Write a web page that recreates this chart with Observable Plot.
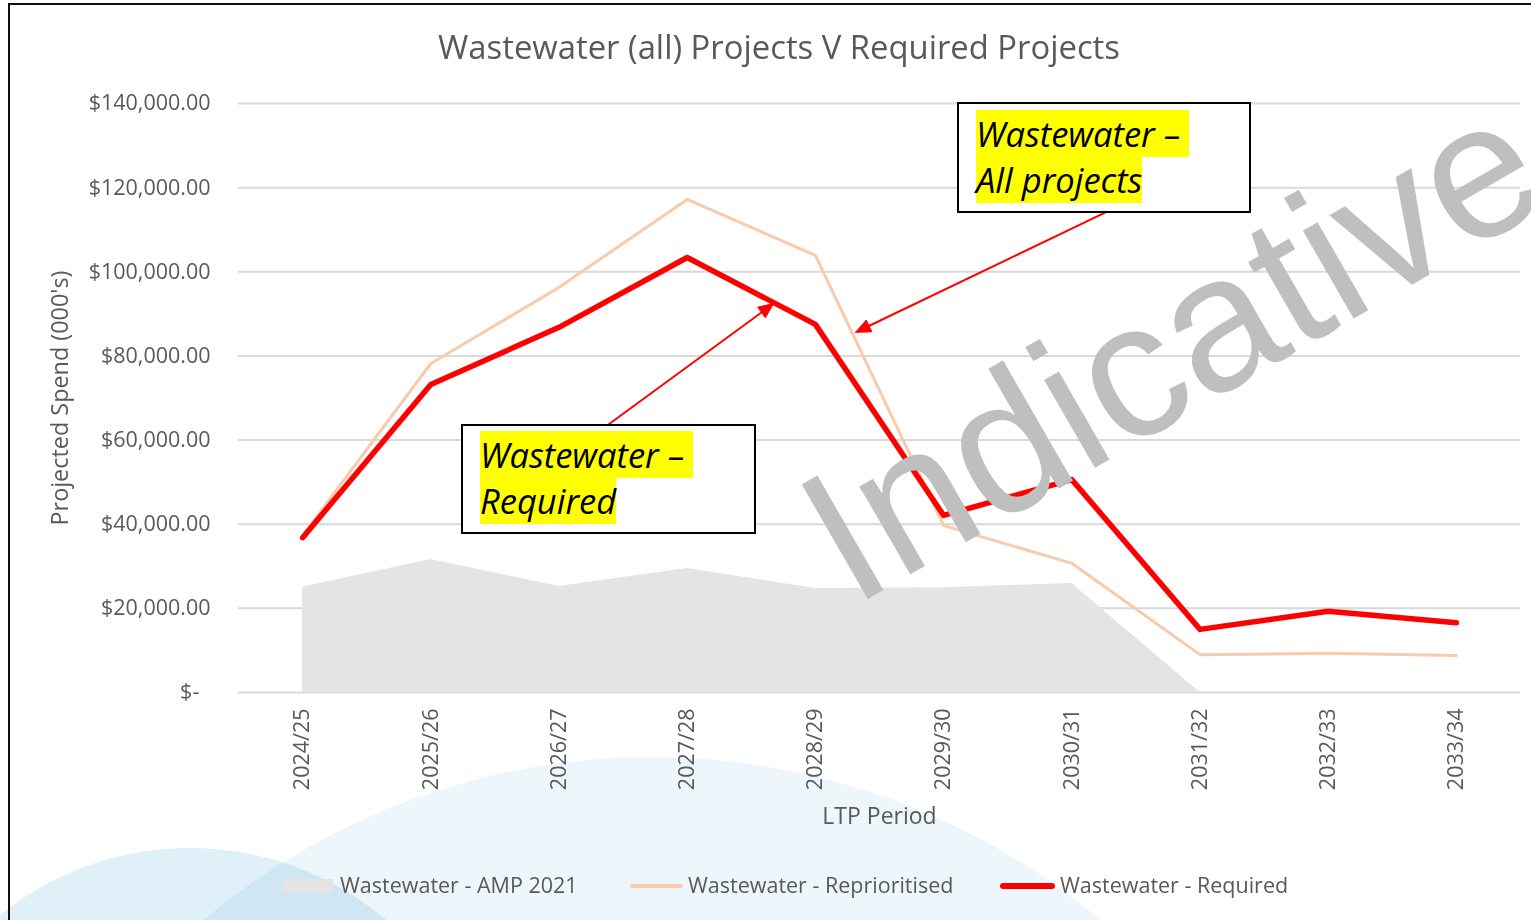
<!DOCTYPE html>
<html><head><meta charset="utf-8">
<script src="https://cdn.jsdelivr.net/npm/d3@7"></script>
<script src="https://cdn.jsdelivr.net/npm/@observablehq/plot@0.6"></script>
<style>
body{margin:0;background:#fff;}
#wrap{position:relative;width:1531px;height:920px;overflow:hidden;font-family:"Open Sans",sans-serif;color:#595959;background:#fff;isolation:isolate;}
.circle{position:absolute;border-radius:50%;mix-blend-mode:multiply;}
#title{position:absolute;left:9px;width:1540px;top:25px;text-align:center;font-size:32.8px;line-height:44px;white-space:nowrap;}
#chart{position:absolute;left:0;top:80px;}
.box{position:absolute;background:#fff;border:2px solid #000;box-sizing:border-box;font-style:italic;font-size:34.5px;line-height:46px;color:#000;white-space:nowrap;}
.hl{background:#ffff00;}
.legtxt{position:absolute;top:870px;font-size:21.5px;line-height:30px;white-space:nowrap;}
.sw{position:absolute;}
#frame{position:absolute;left:8px;top:3px;width:1600px;height:1000px;border-top:2px solid #111;border-left:2px solid #111;}
</style></head>
<body>
<div id="wrap">
  <div class="circle" style="left:-47px;top:757px;width:1398px;height:1398px;background:#edf6fb;"></div>
  <div class="circle" style="left:-114px;top:848px;width:608px;height:608px;background:#dff0f8;"></div>
  <div id="title"></div>
  <div id="chart"></div>
  <div class="box" style="left:957px;top:102px;width:294px;height:111px;padding:7px 0 0 17px;"><span class="hl" id="a1l1"></span><br><span class="hl" id="a1l2"></span></div>
  <div class="box" style="left:461px;top:424px;width:295px;height:110px;padding:6px 0 0 17px;"><span class="hl" id="a2l1"></span><br><span class="hl" id="a2l2"></span></div>
  <div class="sw" style="left:282px;top:879px;width:51px;height:14px;background:#e4e4e4;"></div>
  <div class="legtxt" style="left:340px;" id="lg0"></div>
  <div class="sw" style="left:630px;top:884px;width:53px;height:4px;background:#f8cbad;border-radius:2px;"></div>
  <div class="legtxt" style="left:688px;" id="lg1"></div>
  <div class="sw" style="left:1000px;top:883px;width:55px;height:6px;background:#ff0000;border-radius:3px;"></div>
  <div class="legtxt" style="left:1060px;" id="lg2"></div>
  <div id="frame"></div>
</div>
<script>
// ---- data ----
const periods = ["2024/25","2025/26","2026/27","2027/28","2028/29","2029/30","2030/31","2031/32","2032/33","2033/34"];
const amp2021 = [25000, 31600, 25200, 29500, 24700, 24900, 25900, 0];
const reprioritised = [37300, 78200, 96300, 117200, 103900, 39700, 30700, 9000, 9300, 8800];
const required = [36800, 73200, 86800, 103400, 87500, 42100, 50600, 15000, 19300, 16600];
const yTicks = [0, 20000, 40000, 60000, 80000, 100000, 120000, 140000];
const seriesNames = ["Wastewater - AMP 2021", "Wastewater - Reprioritised", "Wastewater - Required"];
const titleText = "Wastewater (all) Projects V Required Projects";
const yLabel = "Projected Spend (000's)";
const xLabel = "LTP Period";
const annotations = [
  {lines: ["Wastewater \u2013\u00a0", "All projects"], x1: 6.263, y1: 114100, x2: 4.313, y2: 85600},
  {lines: ["Wastewater \u2013\u00a0", "Required"], x1: 2.386, y1: 63700, x2: 3.674, y2: 92450}
];
const watermark = [{text: "Indicative", x: 6.79, y: 81000}];

// ---- text ----
document.getElementById("title").textContent = titleText;
seriesNames.forEach((s, i) => document.getElementById("lg" + i).textContent = s);
document.getElementById("a1l1").textContent = annotations[0].lines[0];
document.getElementById("a1l2").textContent = annotations[0].lines[1];
document.getElementById("a2l1").textContent = annotations[1].lines[0];
document.getElementById("a2l2").textContent = annotations[1].lines[1];

// ---- layout ----
const W = 1531, H = 760, mL = 238, mR = 11, mT = 23, mB = 148;
const xPix = d3.scaleLinear([-0.5, 9.5], [mL, W - mR]);
const yPix = d3.scaleLinear([0, 140000], [H - mB, mT]);

const ampRows = amp2021.map((v, i) => ({i, v}));
const repRows = reprioritised.map((v, i) => ({i, v}));
const reqRows = required.map((v, i) => ({i, v}));

// arrow shafts and filled heads
const links = [], heads = [];
annotations.forEach((a, k) => {
  const p1 = [xPix(a.x1), yPix(a.y1)], p2 = [xPix(a.x2), yPix(a.y2)];
  const len = Math.hypot(p2[0] - p1[0], p2[1] - p1[1]);
  const u = [(p2[0] - p1[0]) / len, (p2[1] - p1[1]) / len];
  const n = [-u[1], u[0]];
  const L = 15, hw = 6.5;
  const b = [p2[0] - u[0] * L, p2[1] - u[1] * L];
  links.push({x1: a.x1, y1: a.y1, x2: xPix.invert(b[0] + u[0] * 2), y2: yPix.invert(b[1] + u[1] * 2)});
  const pts = [p2, [b[0] + n[0] * hw, b[1] + n[1] * hw], [b[0] - n[0] * hw, b[1] - n[1] * hw], p2];
  pts.forEach(p => heads.push({id: k, x: xPix.invert(p[0]), y: yPix.invert(p[1])}));
});

const chart = Plot.plot({
  width: W, height: H,
  marginLeft: mL, marginRight: mR, marginTop: mT, marginBottom: mB,
  style: {background: "transparent", fontFamily: "Open Sans", fontSize: "21.5px", color: "#595959"},
  x: {domain: [-0.5, 9.5], ticks: 10, tickFormat: i => periods[i] ?? "", tickRotate: -90, tickSize: 0, tickPadding: 16, label: null},
  y: {domain: [0, 140000], ticks: 7, tickFormat: v => v === 0 ? "$-\u00a0\u00a0" : "$" + d3.format(",.2f")(v), tickSize: 0, tickPadding: 28, label: null},
  marks: [
    Plot.ruleY(yTicks, {stroke: "#d9d9d9", strokeWidth: 2}),
    Plot.areaY(ampRows, {x: "i", y: "v", fill: "#e4e4e4"}),
    Plot.line(repRows, {x: "i", y: "v", stroke: "#f8cbad", strokeWidth: 3, strokeLinejoin: "round"}),
    Plot.line(reqRows, {x: "i", y: "v", stroke: "#ff0000", strokeWidth: 5.5, strokeLinejoin: "round"}),
    Plot.link(links, {x1: "x1", y1: "y1", x2: "x2", y2: "y2", stroke: "#ff0000", strokeWidth: 2}),
    Plot.line(heads, {x: "x", y: "y", z: "id", fill: "#ff0000", stroke: "#ff0000", strokeWidth: 1}),
    Plot.text(watermark, {x: "x", y: "y", text: "text", rotate: -30, fontSize: 192, fontFamily: "Liberation Sans", fill: "#bfbfbf", textAnchor: "middle", lineAnchor: "middle"}),
    Plot.text([yLabel], {text: d => d, frameAnchor: "left", textAnchor: "middle", dx: -178, rotate: -90, fontSize: 23.4, fill: "#595959"}),
    Plot.text([xLabel], {text: d => d, frameAnchor: "bottom", dy: 131, fontSize: 23, fill: "#595959"})
  ]
});
document.getElementById("chart").appendChild(chart);
</script>
</body></html>
